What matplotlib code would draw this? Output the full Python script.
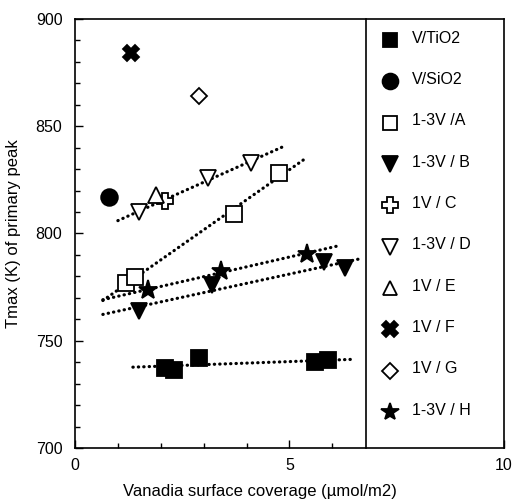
"""
Tmax of the primary TPR peak versus vanadia surface coverage
for the different supported vanadia catalysts.
"""

import numpy as np
import matplotlib.pyplot as plt
from matplotlib.ticker import MultipleLocator, FixedLocator

plt.rcParams['font.family'] = ['Liberation Sans', 'DejaVu Sans']

# coverage (umol/m2) and Tmax (K) for each catalyst series
tio2_x = [2.1, 2.3, 2.9, 5.6, 5.9]
tio2_y = [737.5, 736.5, 742, 740, 741]

sio2_x = [0.8]
sio2_y = [817]

a_x = [1.2, 1.4, 3.7, 4.75]
a_y = [777, 779.5, 809, 828]

b_x = [1.5, 3.2, 5.8, 6.3]
b_y = [764, 776, 786.5, 784]

c_x = [2.1]
c_y = [815]

d_x = [1.5, 3.1, 4.1]
d_y = [810, 826, 833]

e_x = [1.9]
e_y = [818]

f_x = [1.3]
f_y = [884]

g_x = [2.9]
g_y = [864]

h_x = [1.7, 3.4, 5.4]
h_y = [773.5, 782.5, 790.5]

# x-range over which the linear fits are drawn
tio2_fit = [1.35, 6.5]
a_fit = [0.65, 5.4]
b_fit = [0.65, 6.6]
d_fit = [1.0, 4.85]
h_fit = [0.65, 6.1]

# label, x, y, marker, face colour, marker size, fit range
series = [
    ('V/TiO2', tio2_x, tio2_y, 's', 'black', 11, tio2_fit),
    ('V/SiO2', sio2_x, sio2_y, 'o', 'black', 12, None),
    ('1-3V /A', a_x, a_y, 's', 'white', 11, a_fit),
    ('1-3V / B', b_x, b_y, 'v', 'black', 12, b_fit),
    ('1V / C', c_x, c_y, 'P', 'white', 12, None),
    ('1-3V / D', d_x, d_y, 'v', 'white', 12, d_fit),
    ('1V / E', e_x, e_y, '^', 'white', 11, None),
    ('1V / F', f_x, f_y, 'X', 'black', 12, None),
    ('1V / G', g_x, g_y, 'D', 'white', 8.5, None),
    ('1-3V / H', h_x, h_y, '*', 'black', 14, h_fit),
]

fig = plt.figure(figsize=(5.15, 4.99), dpi=100)
ax = fig.add_axes([0.1456, 0.1022, 0.8330, 0.8598])

dotted = (0, (0.1, 1.6))

for label, x, y, marker, face, ms, fit in series:
    if fit is not None:
        slope, intercept = np.polyfit(x, y, 1)
        fx = np.array(fit)
        ax.plot(fx, slope * fx + intercept, color='black', lw=2.3,
                linestyle=dotted, dash_capstyle='round', zorder=2)
    ax.plot(x, y, linestyle='none', marker=marker, ms=ms,
            markerfacecolor=face, markeredgecolor='black',
            markeredgewidth=1.3, zorder=3)

# legend panel on the right, drawn as part of the frame
split = 0.678
ax.plot([split, split], [0, 1], transform=ax.transAxes, color='black',
        lw=1.2, clip_on=False, zorder=4)
top_y = 0.951
step = 0.0963
for i, (label, x, y, marker, face, ms, fit) in enumerate(series):
    yy = top_y - i * step
    ax.plot([0.734], [yy], transform=ax.transAxes, linestyle='none',
            marker=marker, ms=ms * 0.95, markerfacecolor=face,
            markeredgecolor='black', markeredgewidth=1.3, clip_on=False,
            zorder=5)
    ax.text(0.786, yy + 0.004, label, transform=ax.transAxes,
            ha='left', va='center', fontsize=11.5)

ax.set_xlim(0, 10)
ax.set_ylim(700, 900)
ax.xaxis.set_major_locator(FixedLocator([0, 5, 10]))
ax.xaxis.set_minor_locator(FixedLocator([1, 2, 3, 4, 6]))
ax.yaxis.set_major_locator(MultipleLocator(50))
ax.yaxis.set_minor_locator(MultipleLocator(10))
ax.tick_params(which='both', direction='in', top=False, right=False,
               labelsize=11.5, width=1)
ax.tick_params(which='major', length=6)
ax.tick_params(which='minor', length=3.5)
ax.tick_params(axis='y', pad=9)
ax.tick_params(axis='x', pad=7)
for sp in ax.spines.values():
    sp.set_linewidth(1.2)

ax.set_xlabel('Vanadia surface coverage (µmol/m2)', fontsize=12, labelpad=4)
ax.xaxis.set_label_coords(0.43, -0.085)
ax.set_ylabel('Tmax (K) of primary peak', fontsize=12)
ax.yaxis.set_label_coords(-0.125, 0.5)

fig.savefig('out.png', dpi=100)
